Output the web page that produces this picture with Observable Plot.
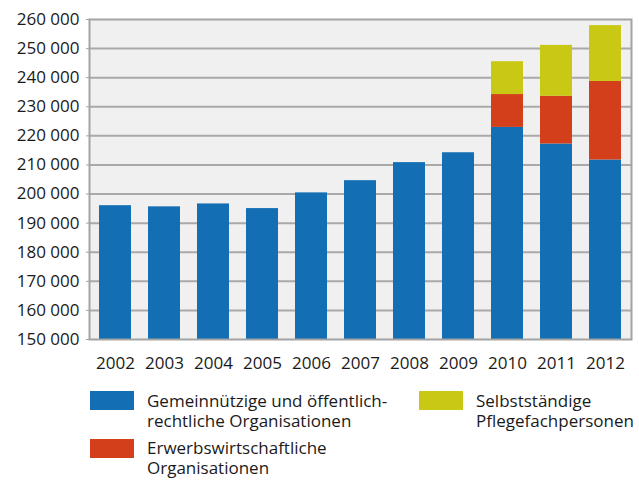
<!DOCTYPE html>
<html>
<head>
<meta charset="utf-8">
<script src="https://cdn.jsdelivr.net/npm/d3@7"></script>
<script src="https://cdn.jsdelivr.net/npm/@observablehq/plot@0.6"></script>
<style>
  html, body { margin: 0; padding: 0; background: #fff; }
  #wrap { position: relative; width: 639px; height: 480px; font-family: "Open Sans", sans-serif; color: #1a1a1a; }
  #chart svg { display: block; }
  .sw { position: absolute; width: 44px; height: 19px; }
  .lt { position: absolute; font-size: 17px; line-height: 20px; white-space: nowrap; }
</style>
</head>
<body>
<div id="wrap">
  <div id="chart"></div>
  <div id="legend"></div>
</div>
<script>
const years = ["2002","2003","2004","2005","2006","2007","2008","2009","2010","2011","2012"];
const seriesNames = [
  "Gemeinnützige und öffentlich-rechtliche Organisationen",
  "Erwerbswirtschaftliche Organisationen",
  "Selbstständige Pflegefachpersonen"
];
const gemeinnuetzig = [196000, 195600, 196600, 195000, 200400, 204600, 210800, 214200, 222900, 217200, 211700];
const erwerbs       = [0, 0, 0, 0, 0, 0, 0, 0, 11300, 16400, 27000];
const selbst        = [0, 0, 0, 0, 0, 0, 0, 0, 11300, 17500, 19200];
const colors = ["#136eb4", "#d33f1b", "#c8c815"];
const yTicks = [150000,160000,170000,180000,190000,200000,210000,220000,230000,240000,250000,260000];
const legendLines = [
  ["Gemeinnützige und öffentlich-", "rechtliche Organisationen"],
  ["Erwerbswirtschaftliche", "Organisationen"],
  ["Selbstständige", "Pflegefachpersonen"]
];

const seriesValues = [gemeinnuetzig, erwerbs, selbst];
const data = [];
seriesNames.forEach((s, i) => {
  years.forEach((y, j) => data.push({year: y, series: s, value: seriesValues[i][j]}));
});

const fmt = d => d3.format(",")(d).replace(/,/g, " ");

const chart = Plot.plot({
  width: 639,
  height: 375,
  marginLeft: 89,
  marginRight: 8,
  marginTop: 19,
  marginBottom: 36,
  style: {fontFamily: "Open Sans, sans-serif", fontSize: "17px", color: "#1a1a1a", background: "white"},
  x: {type: "band", domain: years, paddingInner: 0.337, paddingOuter: 0.19},
  y: {domain: [150000, 260000]},
  color: {domain: seriesNames, range: colors},
  marks: [
    Plot.frame({fill: "#eff0ef", stroke: "none"}),
    Plot.ruleY(yTicks.slice(1, -1), {stroke: "#a9a9a9", strokeWidth: 2}),
    Plot.barY(data, Plot.stackY({x: "year", y: "value", fill: "series", clip: true})),
    Plot.frame({stroke: "#a3a3a3", strokeWidth: 2}),
    Plot.axisY({ticks: yTicks, tickSize: 3, tickPadding: 7, tickFormat: fmt, stroke: "#a3a3a3", fill: "#1a1a1a", label: null}),
    Plot.axisX({tickSize: 0, tickPadding: 17, fill: "#1a1a1a", label: null})
  ]
});
document.getElementById("chart").appendChild(chart);

const legend = document.getElementById("legend");
const pos = [
  {sx: 90, sy: 391, tx: 147, ty: 391},
  {sx: 90, sy: 439, tx: 147, ty: 438},
  {sx: 419, sy: 391, tx: 476, ty: 391}
];
seriesNames.forEach((s, i) => {
  const sw = document.createElement("div");
  sw.className = "sw";
  sw.style.left = pos[i].sx + "px";
  sw.style.top = pos[i].sy + "px";
  sw.style.background = colors[i];
  legend.appendChild(sw);
  const t = document.createElement("div");
  t.className = "lt";
  t.style.left = pos[i].tx + "px";
  t.style.top = pos[i].ty + "px";
  t.innerHTML = legendLines[i].join("<br>");
  legend.appendChild(t);
});
</script>
</body>
</html>
